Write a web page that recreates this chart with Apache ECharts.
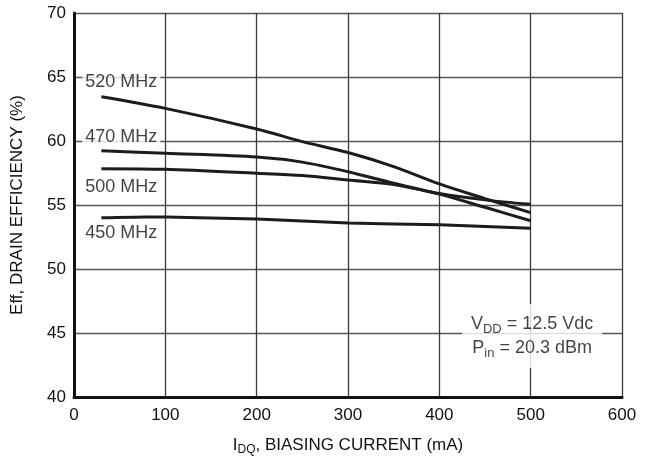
<!DOCTYPE html>
<html>
<head>
<meta charset="utf-8">
<script src="https://cdn.jsdelivr.net/npm/echarts@6/dist/echarts.min.js"></script>
<style>html,body{margin:0;padding:0;background:#fff;}#c{width:646px;height:464px;}</style>
</head>
<body>
<div id="c"></div>
<script>
// Data
var xTicks = [0, 100, 200, 300, 400, 500, 600];
var yTicks = [40, 45, 50, 55, 60, 65, 70];
var seriesNames = ['520 MHz', '470 MHz', '500 MHz', '450 MHz'];
var s520 = [[30, 63.46], [100, 62.55], [200, 60.94], [250, 59.95], [300, 59.1], [350, 58.0], [400, 56.65], [450, 55.5], [500, 54.4]];
var s470 = [[30, 59.24], [100, 59.04], [200, 58.75], [250, 58.35], [300, 57.6], [350, 56.7], [400, 55.85], [450, 54.82], [500, 53.77]];
var s500 = [[30, 57.84], [100, 57.79], [200, 57.48], [250, 57.3], [300, 56.95], [350, 56.6], [400, 55.9], [450, 55.4], [500, 55.05]];
var s450 = [[30, 54.0], [80, 54.07], [100, 54.06], [200, 53.9], [300, 53.6], [400, 53.45], [500, 53.18]];
var labelX = 9;
var labelY = [64.6, 60.34, 56.43, 52.8];
var noteX = 501.6, noteY = 44.77;

var FONT = '"Liberation Sans", Arial, sans-serif';
var TXT = '#111';
var lineColor = '#1c1c1c';

function curve(name, data) {
  return {
    name: name, type: 'line', data: data, smooth: 0.3, symbol: 'none',
    lineStyle: { color: lineColor, width: 3 }, z: 3
  };
}

var labelData = seriesNames.map(function (n, i) { return { value: [labelX, labelY[i]], name: n }; });

var chart = echarts.init(document.getElementById('c'), null, { renderer: 'canvas' });
chart.setOption({
  animation: false,
  backgroundColor: '#fff',
  grid: { left: 74, right: 24, top: 13, bottom: 67, containLabel: false },
  xAxis: {
    type: 'value', min: 0, max: 600, interval: 100,
    axisLine: { show: true, onZero: false, lineStyle: { color: '#111', width: 3 } },
    axisTick: { show: false },
    splitLine: { show: true, lineStyle: { color: '#3a3a3a', width: 1.3 } },
    axisLabel: { color: TXT, fontSize: 17, fontFamily: FONT, margin: 10 },
    name: '{a|I}{s|DQ}{a|, BIASING CURRENT (mA)}',
    nameLocation: 'middle', nameGap: 37,
    nameTextStyle: {
      rich: {
        a: { fontSize: 17, fontFamily: FONT, color: TXT, lineHeight: 22 },
        s: { fontSize: 12, fontFamily: FONT, color: TXT, lineHeight: 22, verticalAlign: 'bottom', padding: [6, 0, 0, 0] }
      }
    }
  },
  yAxis: {
    type: 'value', min: 40, max: 70, interval: 5,
    axisLine: { show: true, onZero: false, lineStyle: { color: '#111', width: 3 } },
    axisTick: { show: false },
    splitLine: { show: true, lineStyle: { color: '#555', width: 1.3 } },
    axisLabel: { color: TXT, fontSize: 17, fontFamily: FONT, margin: 8 },
    name: 'Eff, DRAIN EFFICIENCY (%)',
    nameLocation: 'middle', nameGap: 48, nameRotate: 90,
    nameTextStyle: { fontSize: 17, fontFamily: FONT, color: TXT }
  },
  series: [
    curve(seriesNames[0], s520),
    curve(seriesNames[1], s470),
    curve(seriesNames[2], s500),
    curve(seriesNames[3], s450),
    {
      type: 'scatter', data: labelData, symbolSize: 0, clip: false, z: 4, silent: true,
      label: {
        show: true, position: 'right', distance: 0,
        formatter: function (p) { return p.name; },
        fontSize: 18, fontFamily: FONT, color: TXT,
        backgroundColor: '#fff', padding: [1, 3, 1, 3]
      }
    },
    {
      type: 'scatter', data: [[noteX, noteY]], symbolSize: 0, clip: false, z: 4, silent: true,
      label: {
        show: true, position: 'inside',
        formatter: '{a|V}{s|DD}{a| = 12.5 Vdc}\n{a|P}{s|in}{a| = 20.3 dBm}',
        backgroundColor: '#fff', padding: [8, 9, 8, 9],
        rich: {
          a: { fontSize: 18, fontFamily: FONT, color: TXT, lineHeight: 24 },
          s: { fontSize: 13, fontFamily: FONT, color: TXT, lineHeight: 24, verticalAlign: 'bottom', padding: [6, 0, 0, 0] }
        }
      }
    }
  ]
});
</script>
</body>
</html>
